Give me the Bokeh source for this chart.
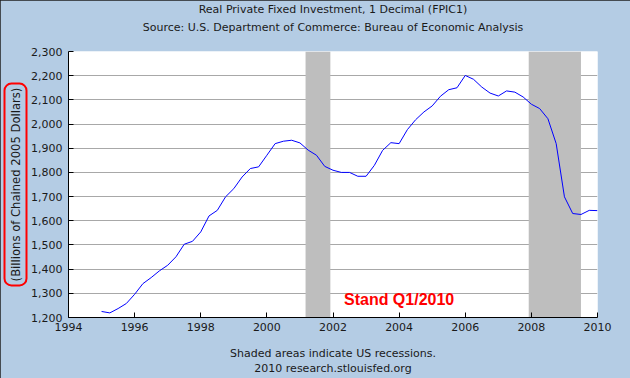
from bokeh.plotting import figure
from bokeh.models import Label, NumeralTickFormatter, FixedTicker, Range1d, Title
from bokeh.embed import file_html
from bokeh.resources import INLINE

# ---------------- data ----------------
title_lines = ["Real Private Fixed Investment, 1 Decimal (FPIC1)",
               "Source: U.S. Department of Commerce: Bureau of Economic Analysis"]
footer_lines = ["Shaded areas indicate US recessions.",
                "2010 research.stlouisfed.org"]
y_label = "(Billions of Chained 2005 Dollars)"
note = "Stand Q1/2010"

quarters = ["1995Q1", "1995Q2", "1995Q3", "1995Q4",
            "1996Q1", "1996Q2", "1996Q3", "1996Q4",
            "1997Q1", "1997Q2", "1997Q3", "1997Q4",
            "1998Q1", "1998Q2", "1998Q3", "1998Q4",
            "1999Q1", "1999Q2", "1999Q3", "1999Q4",
            "2000Q1", "2000Q2", "2000Q3", "2000Q4",
            "2001Q1", "2001Q2", "2001Q3", "2001Q4",
            "2002Q1", "2002Q2", "2002Q3", "2002Q4",
            "2003Q1", "2003Q2", "2003Q3", "2003Q4",
            "2004Q1", "2004Q2", "2004Q3", "2004Q4",
            "2005Q1", "2005Q2", "2005Q3", "2005Q4",
            "2006Q1", "2006Q2", "2006Q3", "2006Q4",
            "2007Q1", "2007Q2", "2007Q3", "2007Q4",
            "2008Q1", "2008Q2", "2008Q3", "2008Q4",
            "2009Q1", "2009Q2", "2009Q3", "2009Q4",
            "2010Q1"]
investment = [1225, 1219, 1237, 1258,
              1296, 1340, 1365, 1393,
              1416, 1451, 1503, 1515,
              1554, 1620, 1643, 1699,
              1733, 1781, 1816, 1823,
              1871, 1919, 1929, 1933,
              1922, 1892, 1871, 1825,
              1809, 1800, 1800, 1784,
              1784, 1829, 1891, 1923,
              1919, 1977, 2018, 2050,
              2075, 2115, 2142, 2150,
              2201, 2185, 2153, 2128,
              2116, 2137, 2132, 2112,
              2082, 2064, 2022, 1919,
              1699, 1630, 1626, 1643,
              1642]
recession_start = [2001.17, 2007.92]
recession_end = [2001.92, 2009.50]
x_ticks = [1994, 1996, 1998, 2000, 2002, 2004, 2006, 2008, 2010]
y_ticks = [1200, 1300, 1400, 1500, 1600, 1700, 1800, 1900, 2000, 2100, 2200, 2300]

x_vals = [int(q[:4]) + (int(q[5]) - 1) / 4 for q in quarters]

# ---------------- layout ----------------
W, H = 630, 378
L, R, T, B = 67, 33, 51, 61
X0, X1, Y0, Y1 = 1994, 2010, 1200, 2300
FW, FH = W - L - R, H - T - B

def dx(px):
    return X0 + (px - L) * (X1 - X0) / FW

def dy(py):
    return Y1 - (py - T) * (Y1 - Y0) / FH

BG = "#B4CCE4"
FONT = "DejaVu Sans"
TXT = "#1A1A1A"

p = figure(width=W, height=H, x_range=Range1d(X0, X1), y_range=Range1d(Y0, Y1),
           output_backend="svg", toolbar_location=None,
           min_border_left=L, min_border_right=R, min_border_top=T, min_border_bottom=B)
p.border_fill_color = BG
p.background_fill_color = "white"
p.outline_line_color = None
p.styles = {"outline": "1px solid #202020", "outline-offset": "-1px"}

# recessions
p.quad(left=recession_start, right=recession_end, bottom=Y0, top=Y1,
       fill_color="#BEBEBE", line_color=None)
# series
p.line(x_vals, investment, line_color="#0000FF", line_width=1)

# axes
for ax in (p.xaxis[0], p.yaxis[0]):
    ax.axis_line_color = "black"
    ax.major_tick_line_color = "black"
    ax.major_tick_in = 5
    ax.major_tick_out = 0
    ax.minor_tick_line_color = None
    ax.major_label_text_font = FONT
    ax.major_label_text_font_size = "11px"
    ax.major_label_text_color = TXT
p.xaxis.ticker = FixedTicker(ticks=x_ticks)
p.yaxis.ticker = FixedTicker(ticks=y_ticks)
p.yaxis.formatter = NumeralTickFormatter(format="0,0")
p.xaxis.major_label_standoff = 5
p.yaxis.major_label_standoff = 6
p.xgrid.grid_line_color = None
p.ygrid.grid_line_color = "#A8A8A8"
p.ygrid.grid_line_width = 1

def mk_title(txt, standoff, size="11px"):
    return Title(text=txt, align="center", offset=-15, text_font=FONT,
                 text_font_size=size, text_font_style="normal",
                 text_color=TXT, standoff=standoff)

# titles above (added closest-to-frame first; blank spacer first)
p.add_layout(mk_title(" ", 0), "above")
p.add_layout(mk_title(title_lines[1], 6), "above")
p.add_layout(mk_title(title_lines[0], 0), "above")
# footers below (after the x axis; small blank spacer first)
p.add_layout(mk_title(" ", 0, "8px"), "below")
p.add_layout(mk_title(footer_lines[0], 0), "below")
p.add_layout(mk_title(footer_lines[1], 0), "below")

# y label with red rounded box
p.add_layout(Title(text=y_label, align="center", offset=-4, text_font=FONT,
                   text_font_size="11.6px", text_font_style="normal",
                   text_color=TXT, standoff=4,
                   border_line_color="#FF0000", border_line_width=2,
                   border_radius=7, padding=4), "left")

# red note
p.add_layout(Label(x=dx(343), y=dy(299), text=note, text_align="left",
                   text_baseline="middle", text_font="Liberation Sans",
                   text_font_style="bold", text_font_size="16px",
                   text_color="#FF0000"))

open("out.html", "w").write(file_html(p, INLINE))
